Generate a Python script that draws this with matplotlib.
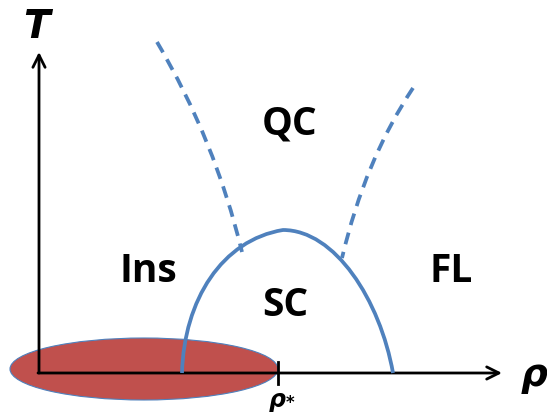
import numpy as np
import matplotlib
matplotlib.use("Agg")
import matplotlib.pyplot as plt
from matplotlib.patches import Ellipse, PathPatch
from matplotlib.path import Path

# Canvas in pixel units (y grows downward)
W, H = 547, 412

# Axes of the sketch
origin = (39, 373)
t_axis_tip = (39, 52)
rho_axis_tip = (502, 373)
rho_star = 278

# SC dome, two cubic Bezier halves
dome_left = [(182, 373), (184, 300), (222, 240), (283, 230)]
dome_right = [(283, 230), (335, 230), (380, 300), (393, 373)]

# Crossover lines bounding the QC region (quadratic Bezier)
qc_left = [(157, 42), (215, 140), (242, 252)]
qc_right = [(413, 88), (365, 160), (342, 258)]

# Insulating blob around the origin
blob_center = (144, 369)
blob_size = (268, 62)

# Region labels
regions = ["QC", "Ins", "SC", "FL"]
region_pos = [(290, 124), (148, 271), (285, 306), (451, 271)]

BLUE = "#4F81BD"
RED = "#C0504D"

fig = plt.figure(figsize=(W / 100, H / 100), dpi=100)
ax = fig.add_axes([0, 0, 1, 1])
ax.set_xlim(0, W)
ax.set_ylim(H, 0)
ax.axis("off")

ax.add_patch(Ellipse(blob_center, *blob_size, facecolor=RED,
                     edgecolor=BLUE, lw=0.8, zorder=1))

arrow = dict(arrowstyle="->", lw=2.0, color="black",
             mutation_scale=22, shrinkA=0, shrinkB=0)
ax.annotate("", xy=t_axis_tip, xytext=origin, arrowprops=arrow, zorder=3)
ax.annotate("", xy=rho_axis_tip, xytext=(origin[0] - 1, origin[1]),
            arrowprops=arrow, zorder=3)
ax.plot([rho_star, rho_star], [362, 384], color="black", lw=2.0, zorder=3)

dome = Path(dome_left + dome_right[1:],
            [Path.MOVETO] + [Path.CURVE4] * 6)
ax.add_patch(PathPatch(dome, fill=False, edgecolor=BLUE, lw=2.7,
                       capstyle="butt", zorder=4))

for pts in (qc_left, qc_right):
    p = Path(pts, [Path.MOVETO, Path.CURVE3, Path.CURVE3])
    ax.add_patch(PathPatch(p, fill=False, edgecolor=BLUE, lw=2.7,
                           linestyle=(0, (3.2, 2.1)), capstyle="butt",
                           zorder=4))

for name, (x, y) in zip(regions, region_pos):
    ax.text(x, y, name, fontsize=28, fontweight="bold", family="Open Sans",
            ha="center", va="center", zorder=5)

ax.text(36, 27, "T", fontsize=28, fontweight="bold", style="italic",
        family="DejaVu Sans", ha="center", va="center")
ax.text(534, 376, "ρ", fontsize=27, fontweight="bold", style="italic",
        family="DejaVu Sans", ha="center", va="center")
ax.text(277, 400, "ρ", fontsize=17, fontweight="bold", style="italic",
        family="DejaVu Sans", ha="center", va="center")
ax.text(290, 403, "*", fontsize=12, fontweight="bold",
        family="DejaVu Sans", ha="center", va="center")

fig.savefig("out.png", dpi=100)
